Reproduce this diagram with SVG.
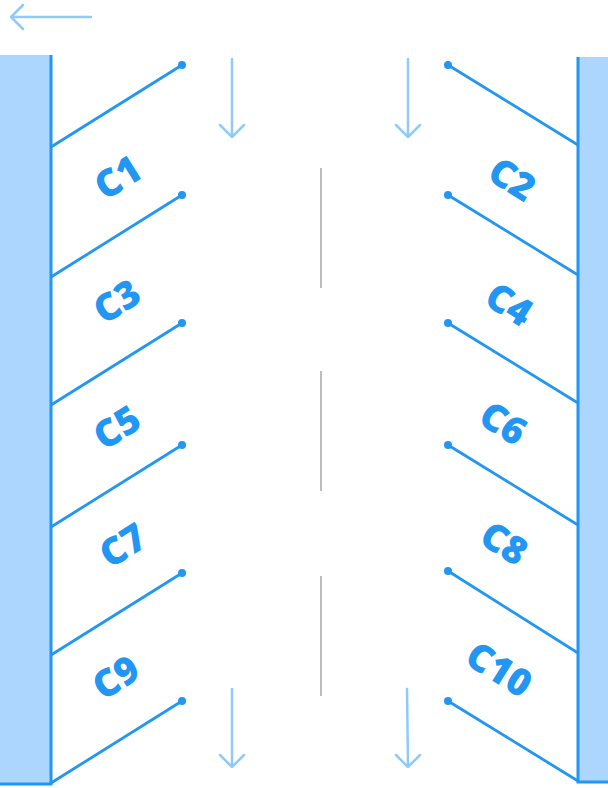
<svg xmlns="http://www.w3.org/2000/svg" width="608" height="788" viewBox="0 0 608 788">
<style>
.wall{fill:#acd6fd;stroke:none}
.edge{stroke:#2196f3;stroke-width:3;fill:none}
.bar{stroke:#2196f3;stroke-width:2.8;fill:none}
.dot{fill:#2196f3}
.flow{stroke:#90caf9;stroke-width:2.5;fill:none;stroke-linecap:round;stroke-linejoin:round}
.mid{stroke:#bdbdbd;stroke-width:2}
.lbl{font-family:"Open Sans","Liberation Sans",sans-serif;font-weight:800;font-size:38px;fill:#2196f3;text-anchor:middle;dominant-baseline:central}
</style>
<rect width="608" height="788" fill="#ffffff"/>
<g id="left-wall">
<rect class="wall" x="0" y="55" width="51" height="729"/>
<path class="edge" d="M51,55 V784 H0"/>
</g>
<g id="right-wall">
<rect class="wall" x="578" y="57" width="30" height="725"/>
<path class="edge" d="M578,57 V782 H608"/>
</g>
<g id="center-lines">
<line class="mid" x1="321" y1="168" x2="321" y2="288"/>
<line class="mid" x1="321" y1="371" x2="321" y2="491"/>
<line class="mid" x1="321" y1="576" x2="321" y2="696"/>
</g>
<g id="flow-arrows">
<path class="flow" d="M91,17 H11 M23,5 L11,17 L23,29"/>
<path class="flow" d="M232,59 V137 M220,125 L232,137 L244,125"/>
<path class="flow" d="M408,59 V137 M396,125 L408,137 L420,125"/>
<path class="flow" d="M232,689 V767 M220,755 L232,767 L244,755"/>
<path class="flow" d="M407,689 L408,767 M396,755 L408,767 L420,755"/>
</g>
<g id="connectors">
<line class="bar" x1="51" y1="147" x2="182" y2="65"/><circle class="dot" cx="182" cy="65" r="4"/>
<line class="bar" x1="51" y1="277" x2="182" y2="195"/><circle class="dot" cx="182" cy="195" r="4"/>
<line class="bar" x1="51" y1="405" x2="182" y2="323"/><circle class="dot" cx="182" cy="323" r="4"/>
<line class="bar" x1="51" y1="527" x2="182" y2="445"/><circle class="dot" cx="182" cy="445" r="4"/>
<line class="bar" x1="51" y1="655" x2="182" y2="573"/><circle class="dot" cx="182" cy="573" r="4"/>
<line class="bar" x1="51" y1="783" x2="182" y2="701"/><circle class="dot" cx="182" cy="701" r="4"/>
<line class="bar" x1="578" y1="145" x2="448" y2="65"/><circle class="dot" cx="448" cy="65" r="4"/>
<line class="bar" x1="578" y1="275" x2="448" y2="195"/><circle class="dot" cx="448" cy="195" r="4"/>
<line class="bar" x1="578" y1="403" x2="448" y2="323"/><circle class="dot" cx="448" cy="323" r="4"/>
<line class="bar" x1="578" y1="525" x2="448" y2="445"/><circle class="dot" cx="448" cy="445" r="4"/>
<line class="bar" x1="578" y1="653" x2="448" y2="571"/><circle class="dot" cx="448" cy="571" r="4"/>
<line class="bar" x1="578" y1="781" x2="448" y2="701"/><circle class="dot" cx="448" cy="701" r="4"/>
</g>
<g id="C1"><text class="lbl" transform="translate(117,176) rotate(-32)">C1</text></g>
<g id="C2"><text class="lbl" transform="translate(513,178) rotate(32)">C2</text></g>
<g id="C3"><text class="lbl" transform="translate(116,300) rotate(-32)">C3</text></g>
<g id="C4"><text class="lbl" transform="translate(510,303) rotate(32)">C4</text></g>
<g id="C5"><text class="lbl" transform="translate(116,426) rotate(-32)">C5</text></g>
<g id="C6"><text class="lbl" transform="translate(504,422) rotate(32)">C6</text></g>
<g id="C7"><text class="lbl" transform="translate(122,544) rotate(-32)">C7</text></g>
<g id="C8"><text class="lbl" transform="translate(505,542) rotate(32)">C8</text></g>
<g id="C9"><text class="lbl" transform="translate(115,676) rotate(-32)">C9</text></g>
<g id="C10"><text class="lbl" transform="translate(500,668) rotate(32)">C10</text></g>
</svg>
